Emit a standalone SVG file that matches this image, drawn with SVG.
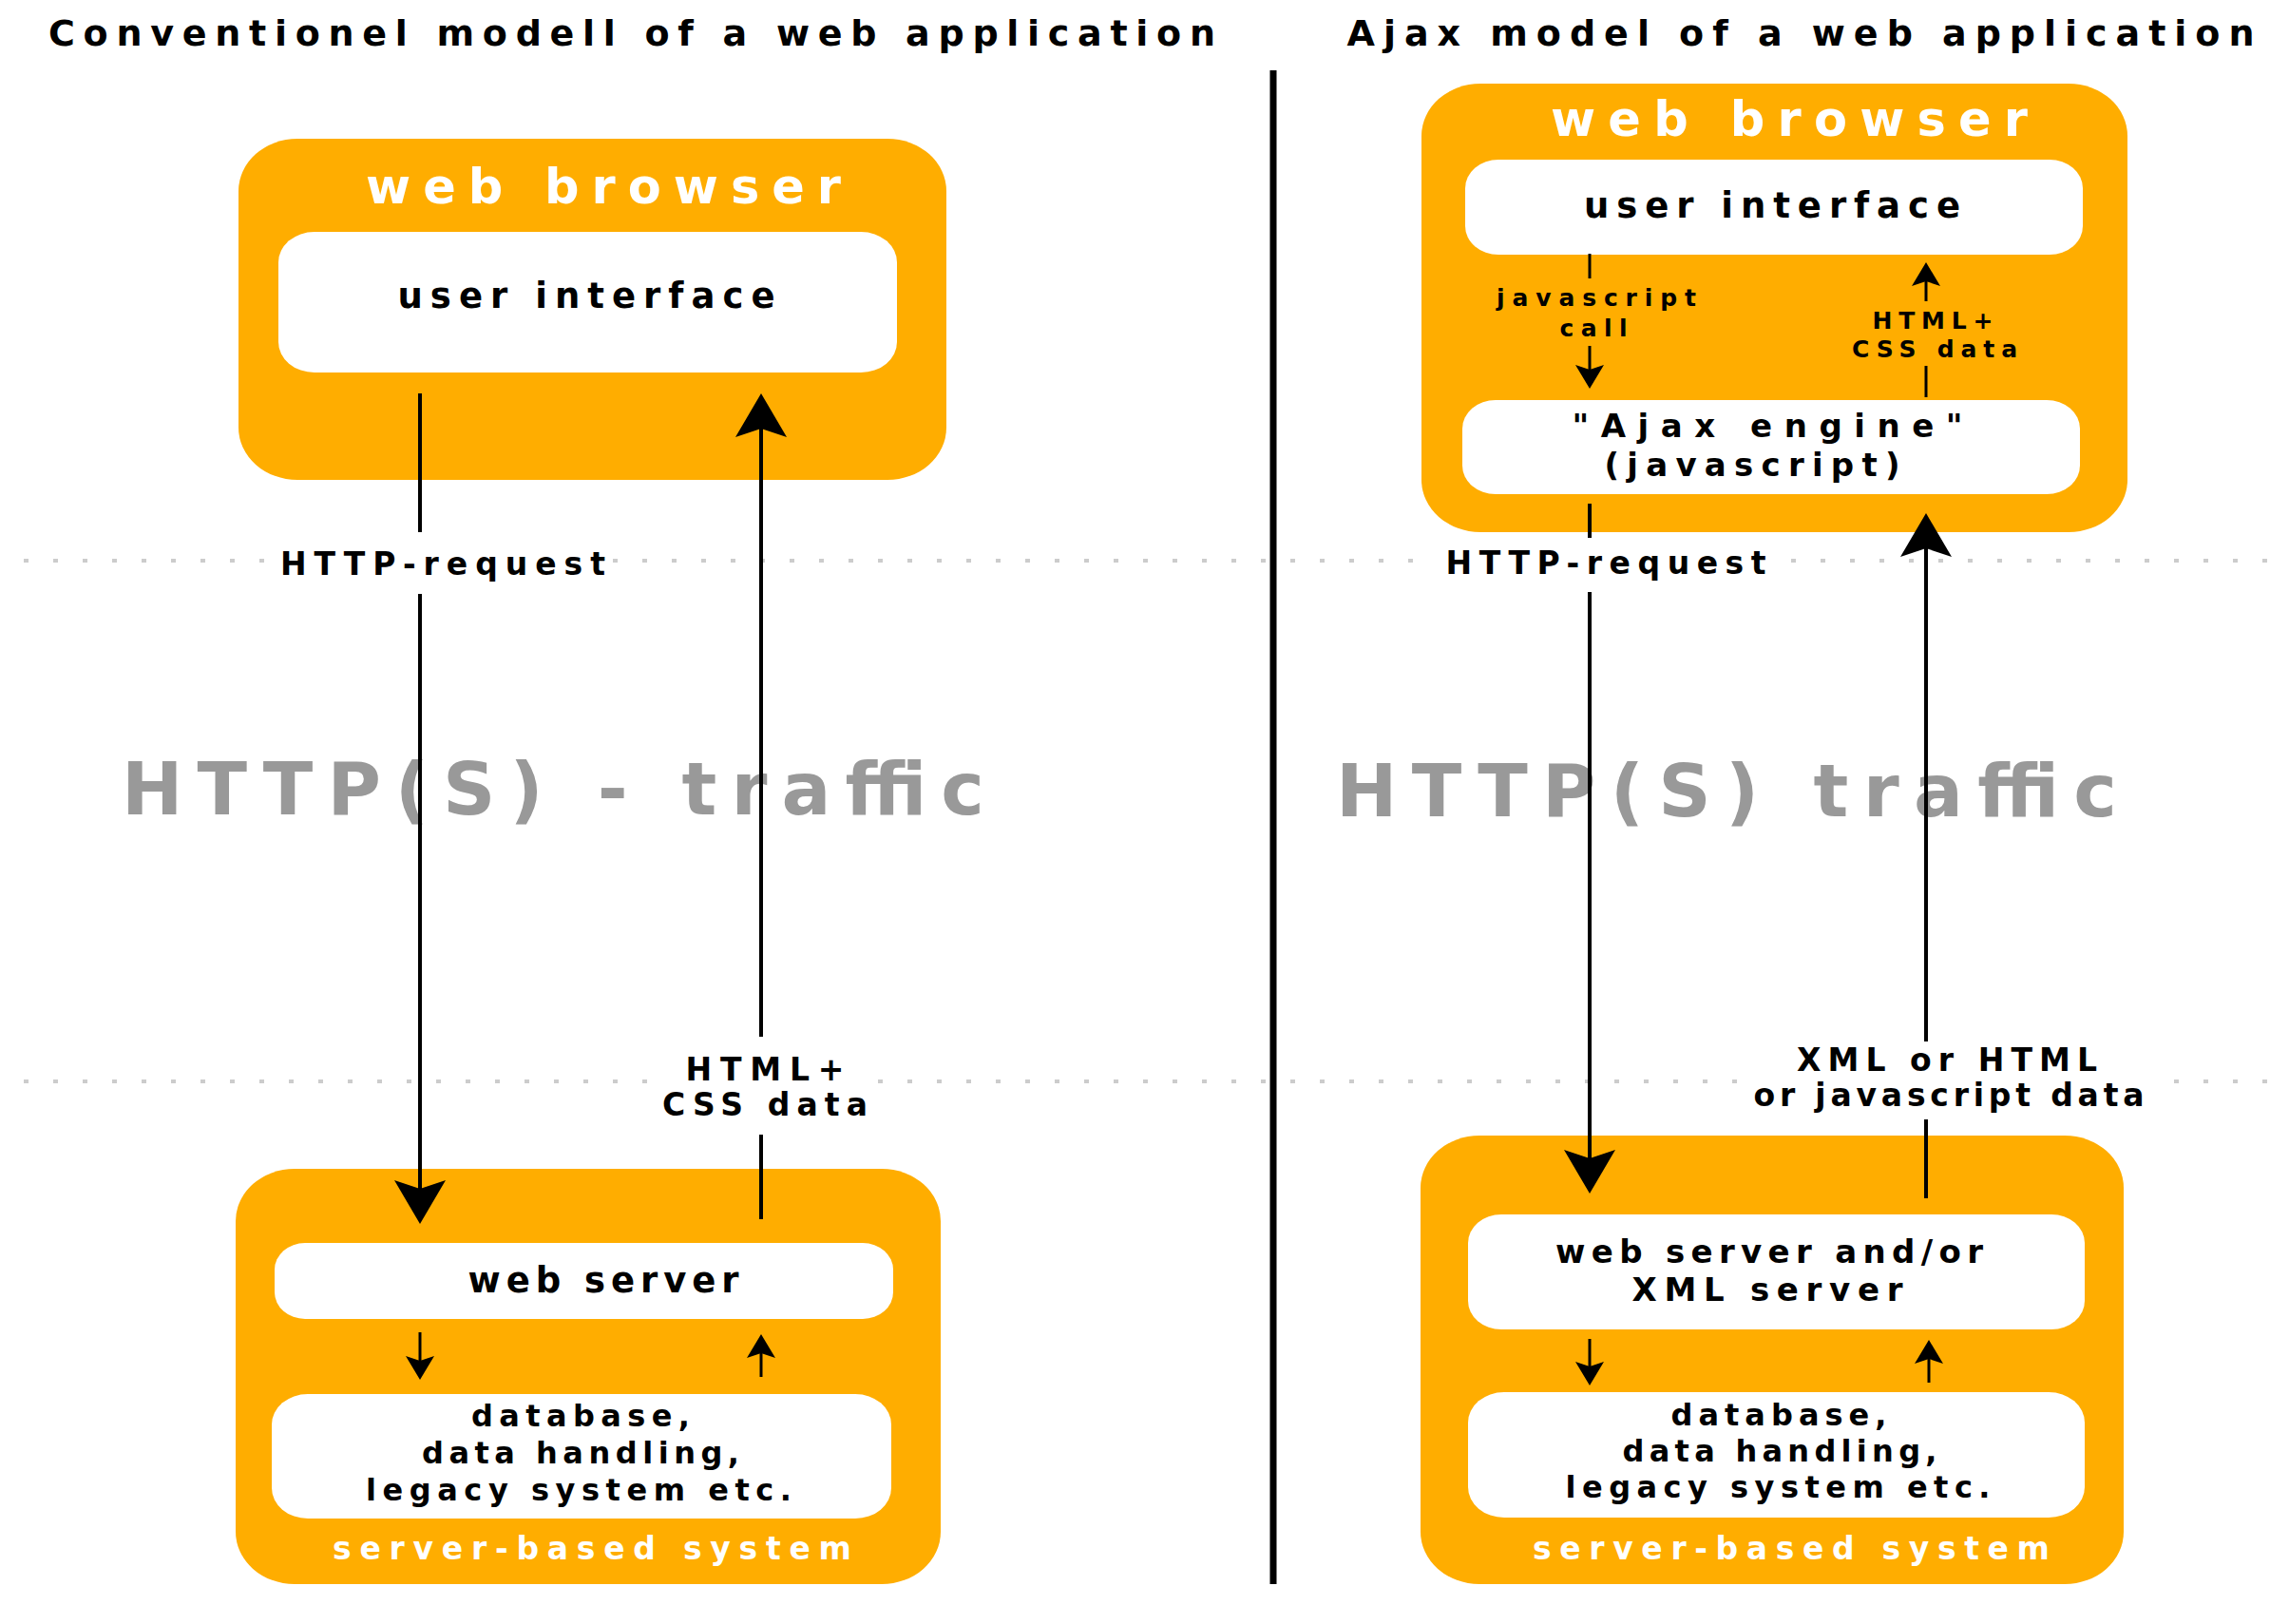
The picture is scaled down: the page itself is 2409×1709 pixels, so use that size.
<svg xmlns="http://www.w3.org/2000/svg" width="2409" height="1709" viewBox="0 0 2409 1709">
<defs>
<style>
text{font-family:"DejaVu Sans","Liberation Sans",sans-serif;font-weight:bold;text-anchor:middle}
.ttl{font-size:38px;fill:#000}
.hdr{font-size:51px;fill:#fff}
.foot{font-size:33px;fill:#fff}
.lbl{font-size:33px;fill:#000}
.in{font-size:37px;fill:#000}
.in2{font-size:34px;fill:#000}
.db{font-size:32px;fill:#000}
.sm{font-size:25px;fill:#000}
.big{font-size:77px;fill:#999}
.outer{fill:#FFAD00}
.inner{fill:#fff}
.grid{stroke:#cccccc;stroke-width:4;stroke-dasharray:5 26;fill:none}
.ln{stroke:#000;stroke-width:4;fill:none}
.lns{stroke:#000;stroke-width:3;fill:none}
.bg{fill:#fff}
</style>
<marker id="ah" viewBox="0 -27 46 54" refX="26" refY="0" markerWidth="46" markerHeight="54" markerUnits="userSpaceOnUse" orient="auto">
<path d="M46,0 L0,-27 L9,0 L0,27 Z" fill="#000"/>
</marker>
<marker id="ahs" viewBox="0 -15 25 30" refX="15" refY="0" markerWidth="25" markerHeight="30" markerUnits="userSpaceOnUse" orient="auto">
<path d="M25,0 L0,-15 L5,0 L0,15 Z" fill="#000"/>
</marker>
</defs>
<rect width="2409" height="1709" fill="#fff"/>
<g id="gridlines">
<line class="grid" x1="25" y1="590" x2="2409" y2="590"/>
<line class="grid" x1="25" y1="1138" x2="2409" y2="1138"/>
</g>
<g id="titles">
<text class="ttl" x="665" y="48" textLength="1228" lengthAdjust="spacing">Conventionel modell of a web application</text>
<text class="ttl" x="1895" y="48" textLength="955" lengthAdjust="spacing">Ajax model of a web application</text>
</g>
<line id="separator" x1="1340" y1="74" x2="1340" y2="1667" stroke="#000" stroke-width="7"/>
<g id="traffic">
<text class="big" x="582" y="857" textLength="908" lengthAdjust="spacing">HTTP(S) - traffic</text>
<text class="big" x="1817" y="859" textLength="822" lengthAdjust="spacing">HTTP(S) traffic</text>
</g>
<g id="left-browser">
<rect class="outer" x="251" y="146" width="745" height="359" rx="62" ry="55"/>
<text class="hdr" x="635" y="214" textLength="500" lengthAdjust="spacing">web browser</text>
</g>
<g id="left-ui">
<rect class="inner" x="293" y="244" width="651" height="148" rx="38" ry="32"/>
<text class="in" x="617" y="324" textLength="397" lengthAdjust="spacing">user interface</text>
</g>
<g id="left-server-system">
<rect class="outer" x="248" y="1230" width="742" height="437" rx="62" ry="55"/>
<text class="foot" x="623" y="1641" textLength="546" lengthAdjust="spacing">server-based system</text>
</g>
<g id="left-webserver">
<rect class="inner" x="289" y="1308" width="651" height="80" rx="32" ry="28"/>
<text class="in" x="635" y="1360" textLength="285" lengthAdjust="spacing">web server</text>
</g>
<g id="left-db">
<rect class="inner" x="286" y="1467" width="652" height="131" rx="38" ry="32"/>
<text class="db" x="611" y="1501" textLength="230" lengthAdjust="spacing">database,</text>
<text class="db" x="611" y="1540" textLength="334" lengthAdjust="spacing">data handling,</text>
<text class="db" x="609" y="1579" textLength="448" lengthAdjust="spacing">legacy system etc.</text>
</g>
<g id="right-browser">
<rect class="outer" x="1496" y="88" width="743" height="472" rx="62" ry="55"/>
<text class="hdr" x="1883" y="143" textLength="502" lengthAdjust="spacing">web browser</text>
</g>
<g id="right-ui">
<rect class="inner" x="1542" y="168" width="650" height="100" rx="35" ry="30"/>
<text class="in" x="1865" y="229" textLength="396" lengthAdjust="spacing">user interface</text>
</g>
<g id="right-engine">
<rect class="inner" x="1539" y="421" width="650" height="99" rx="35" ry="30"/>
<text class="in2" x="1860" y="460" textLength="411" lengthAdjust="spacing">"Ajax engine"</text>
<text class="in2" x="1844" y="501" textLength="311" lengthAdjust="spacing">(javascript)</text>
</g>
<g id="right-server-system">
<rect class="outer" x="1495" y="1195" width="740" height="472" rx="62" ry="55"/>
<text class="foot" x="1885" y="1641" textLength="544" lengthAdjust="spacing">server-based system</text>
</g>
<g id="right-webserver">
<rect class="inner" x="1545" y="1278" width="649" height="121" rx="35" ry="30"/>
<text class="in2" x="1862" y="1329" textLength="450" lengthAdjust="spacing">web server and/or</text>
<text class="in2" x="1860" y="1369" textLength="285" lengthAdjust="spacing">XML server</text>
</g>
<g id="right-db">
<rect class="inner" x="1545" y="1465" width="649" height="132" rx="38" ry="32"/>
<text class="db" x="1872" y="1500" textLength="227" lengthAdjust="spacing">database,</text>
<text class="db" x="1873" y="1538" textLength="331" lengthAdjust="spacing">data handling,</text>
<text class="db" x="1871" y="1576" textLength="447" lengthAdjust="spacing">legacy system etc.</text>
</g>
<g id="connectors">
<line class="ln" x1="442" y1="414" x2="442" y2="560"/>
<line class="ln" x1="442" y1="625" x2="442" y2="1268" marker-end="url(#ah)"/>
<line class="ln" x1="801" y1="1283" x2="801" y2="1194"/>
<line class="ln" x1="801" y1="1091" x2="801" y2="434" marker-end="url(#ah)"/>
<line class="lns" x1="442" y1="1402" x2="442" y2="1442" marker-end="url(#ahs)"/>
<line class="lns" x1="801" y1="1449" x2="801" y2="1414" marker-end="url(#ahs)"/>
<line class="lns" x1="1673" y1="267" x2="1673" y2="293"/>
<line class="lns" x1="1673" y1="364" x2="1673" y2="399" marker-end="url(#ahs)"/>
<line class="lns" x1="2027" y1="418" x2="2027" y2="385"/>
<line class="lns" x1="2027" y1="317" x2="2027" y2="286" marker-end="url(#ahs)"/>
<line class="ln" x1="1673" y1="530" x2="1673" y2="566"/>
<line class="ln" x1="1673" y1="623" x2="1673" y2="1236" marker-end="url(#ah)"/>
<line class="ln" x1="2027" y1="1261" x2="2027" y2="1174"/>
<line class="ln" x1="2027" y1="1102" x2="2027" y2="560" marker-end="url(#ah)"/>
<line class="lns" x1="1673" y1="1409" x2="1673" y2="1448" marker-end="url(#ahs)"/>
<line class="lns" x1="2030" y1="1455" x2="2030" y2="1420" marker-end="url(#ahs)"/>
</g>
<g id="connector-labels">
<rect class="bg" x="285" y="568" width="360" height="48"/>
<text class="lbl" x="466" y="605" textLength="342" lengthAdjust="spacing">HTTP-request</text>
<rect class="bg" x="688" y="1104" width="234" height="82"/>
<text class="lbl" x="805" y="1137" textLength="167" lengthAdjust="spacing">HTML+</text>
<text class="lbl" x="805" y="1174" textLength="216" lengthAdjust="spacing">CSS data</text>
<text class="sm" x="1680" y="322" textLength="210" lengthAdjust="spacing">javascript</text>
<text class="sm" x="1677" y="354" textLength="71" lengthAdjust="spacing">call</text>
<text class="sm" x="2034" y="346" textLength="127" lengthAdjust="spacing">HTML+</text>
<text class="sm" x="2036" y="376" textLength="174" lengthAdjust="spacing">CSS data</text>
<rect class="bg" x="1511" y="568" width="357" height="48"/>
<text class="lbl" x="1690" y="604" textLength="337" lengthAdjust="spacing">HTTP-request</text>
<rect class="bg" x="1836" y="1096" width="431" height="82"/>
<text class="lbl" x="2049" y="1127" textLength="316" lengthAdjust="spacing">XML or HTML</text>
<text class="lbl" x="2051" y="1164" textLength="411" lengthAdjust="spacing">or javascript data</text>
</g>
</svg>
